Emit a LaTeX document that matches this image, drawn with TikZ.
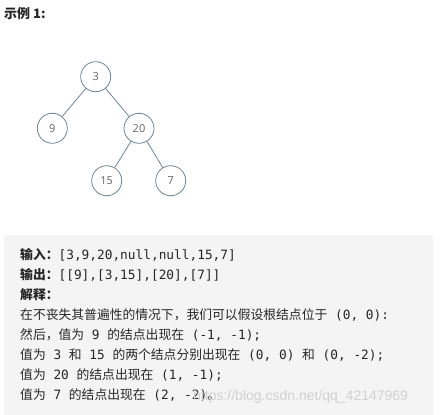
\documentclass[tikz,border=0pt]{standalone}
\usepackage{fontspec}
\setmonofont{DejaVu Sans Mono}
\newfontfamily\cjk{Noto Sans CJK SC}
\newfontfamily\treefont{Open Sans}
\newfontfamily\markfont{Liberation Sans}
\definecolor{ringgray}{HTML}{6F8592}
\definecolor{numgray}{HTML}{666666}
\definecolor{boxgray}{HTML}{F4F4F4}
\definecolor{textdark}{HTML}{262626}
\tikzset{
  treenode/.style={circle,draw=ringgray,line width=0.8pt,minimum size=30pt,
    inner sep=0pt,font=\treefont\fontsize{11}{11}\selectfont,text=numgray},
  treeedge/.style={draw=ringgray,line width=0.8pt},
  codeline/.style={anchor=base west,inner sep=0pt,text=textdark,
    font=\ttfamily\fontsize{12.8}{14}\selectfont}
}

\begin{document}
\begin{tikzpicture}[x=1pt,y=-1pt]
  \useasboundingbox (0,0) rectangle (445,415);
  %--- heading ------------------------------------------------------------------
  \node[anchor=west,inner sep=0pt,text=textdark,
        font=\cjk\bfseries\fontsize{13}{13}\selectfont] (title) at (4,14) {示例 1:};

  %--- tree ---------------------------------------------------------------------
  \node[treenode] (n3)  at (95.7,76.7)  {3};
  \node[treenode] (n9)  at (52.3,128.3) {9};
  \node[treenode] (n20) at (139,128.3)  {20};
  \node[treenode] (n15) at (106.7,180.7) {15};
  \node[treenode] (n7)  at (170.7,180.7) {7};

  \draw[treeedge] (n3) -- (n9);
  \draw[treeedge] (n3) -- (n20);
  \draw[treeedge] (n20) -- (n15);
  \draw[treeedge] (n20) -- (n7);

  %--- example box --------------------------------------------------------------
  \fill[boxgray,rounded corners=3pt] (4,235) rectangle (433,418);

  \node[codeline] (in)   at (20,259) {{\cjk\bfseries 输入：}[3,9,20,null,null,15,7]};
  \node[codeline] (out)  at (20,279) {{\cjk\bfseries 输出：}[[9],[3,15],[20],[7]]};
  \node[codeline] (expl) at (20,299) {{\cjk\bfseries 解释：}};
  \node[codeline] (l1)   at (20,319) {{\cjk 在不丧失其普遍性的情况下，我们可以假设根结点位于} (0, 0):};
  \node[codeline] (l2)   at (20,339) {{\cjk 然后，值为} 9 {\cjk 的结点出现在} (-1, -1);};
  \node[codeline] (l3)   at (20,359) {{\cjk 值为} 3 {\cjk 和} 15 {\cjk 的两个结点分别出现在} (0, 0) {\cjk 和} (0, -2);};
  \node[codeline] (l4)   at (20,379) {{\cjk 值为} 20 {\cjk 的结点出现在} (1, -1);};
  \node[codeline] (l5)   at (20,399) {{\cjk 值为} 7 {\cjk 的结点出现在} (2, -2){\cjk 。}};

  %--- watermark ----------------------------------------------------------------
  \node[anchor=base west,inner sep=0pt,text=black!18,
        font=\markfont\fontsize{14}{14}\selectfont] (mark) at (193,400)
        {https://blog.csdn.net/qq\_42147969};
\end{tikzpicture}
\end{document}
